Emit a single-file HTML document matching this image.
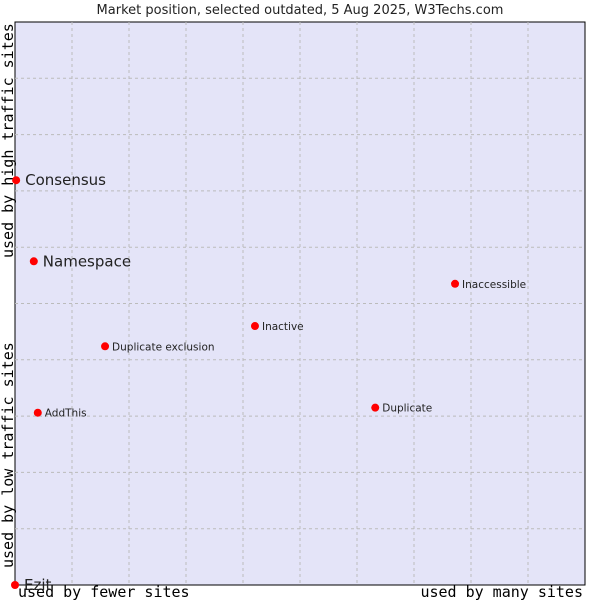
<!DOCTYPE html>
<html><head><meta charset="utf-8"><style>body{margin:0;background:#fff}svg{display:block}</style></head>
<body>
<svg id="chart" width="600" height="600" xmlns="http://www.w3.org/2000/svg">
<text x="300" y="14" text-anchor="middle" font-family="'DejaVu Sans',sans-serif" font-size="13" fill="#222">Market position, selected outdated, 5 Aug 2025, W3Techs.com</text>
<rect x="15" y="22" width="570" height="563" fill="#e4e4f8" stroke="#000" stroke-width="1"/>
<g id="grid"></g>
<text transform="translate(13,258) rotate(-90)" font-family="'DejaVu Sans Mono','Liberation Mono',monospace" font-size="15" fill="#000">used by high traffic sites</text>
<text transform="translate(13,568) rotate(-90)" font-family="'DejaVu Sans Mono','Liberation Mono',monospace" font-size="15" fill="#000">used by low traffic sites</text>
<text x="18" y="597" font-family="'DejaVu Sans Mono','Liberation Mono',monospace" font-size="15" fill="#000">used by fewer sites</text>
<text x="583" y="597" text-anchor="end" font-family="'DejaVu Sans Mono','Liberation Mono',monospace" font-size="15" fill="#000">used by many sites</text>
<g id="points"></g>
</svg>
<script>
const names = ["Consensus","Namespace","Inaccessible","Inactive","Duplicate exclusion","AddThis","Duplicate","Ezit"];
const xValues = [0.2,3.3,77.2,42.1,15.8,4.0,63.2,0];
const yValues = [71.9,57.5,53.5,46.0,42.4,30.6,31.5,0];
const bigLabel = [true,true,false,false,false,false,false,true];
const NS="http://www.w3.org/2000/svg";
const L=15,T=22,W=570,H=563;
const sx=v=>L+v/100*W, sy=v=>T+H-v/100*H;
const grid=document.getElementById('grid');
for(let i=1;i<10;i++){
  const vl=document.createElementNS(NS,'line');
  vl.setAttribute('x1',sx(i*10));vl.setAttribute('x2',sx(i*10));vl.setAttribute('y1',T);vl.setAttribute('y2',T+H);
  vl.setAttribute('stroke','#bbb');vl.setAttribute('stroke-dasharray','3,3');
  
  
  grid.appendChild(vl);
  const hl=document.createElementNS(NS,'line');
  hl.setAttribute('y1',sy(i*10));hl.setAttribute('y2',sy(i*10));hl.setAttribute('x1',L);hl.setAttribute('x2',L+W);
  hl.setAttribute('stroke','#bbb');hl.setAttribute('stroke-dasharray','3,3');
  
  
  grid.appendChild(hl);
}
const pts=document.getElementById('points');
names.forEach((n,i)=>{
  const x=sx(xValues[i]),y=sy(yValues[i]);
  const c=document.createElementNS(NS,'circle');
  c.setAttribute('cx',x);c.setAttribute('cy',y);c.setAttribute('r',4);c.setAttribute('fill','#f00');
  
  
  pts.appendChild(c);
  const t=document.createElementNS(NS,'text');
  t.setAttribute('x',x+(bigLabel[i]?9:7));t.setAttribute('y',y+(bigLabel[i]?5:4));
  t.setAttribute('font-family',"'DejaVu Sans',sans-serif");
  t.setAttribute('font-size',bigLabel[i]?15:10.5);t.setAttribute('fill','#222');
  t.textContent=n;
  
  
  pts.appendChild(t);
});
</script>
</body></html>
